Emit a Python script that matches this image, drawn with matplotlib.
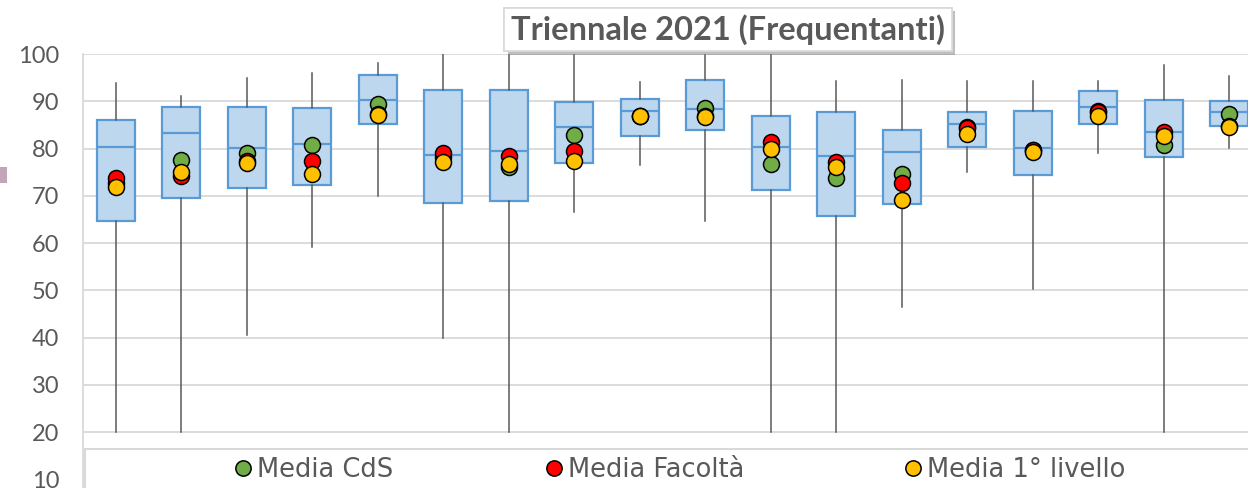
import numpy as np
import matplotlib
matplotlib.use("Agg")
import matplotlib.pyplot as plt
from matplotlib.patches import Rectangle
from matplotlib.lines import Line2D
import matplotlib.patheffects as pe

plt.rcParams['font.family'] = ['Lato', 'DejaVu Sans']

# box statistics per course
whis_lo = [20, 20, 40.6, 59.2, 69.9, 40.0, 20, 66.5, 76.5, 64.7, 20, 20, 46.5, 75.1, 50.3, 79.0, 20, 80.2]
q1 = [64.7, 69.6, 71.6, 72.3, 85.3, 68.4, 69.0, 77.0, 82.7, 83.9, 71.2, 65.7, 68.3, 80.3, 74.4, 85.2, 78.3, 84.8]
med = [80.3, 83.4, 80.2, 81.0, 90.2, 78.6, 79.5, 84.6, 87.9, 88.4, 80.3, 78.4, 79.3, 85.3, 80.2, 88.9, 83.5, 87.7]
q3 = [86.0, 88.7, 88.9, 88.5, 95.5, 92.5, 92.5, 89.9, 90.5, 94.6, 86.9, 87.8, 83.9, 87.7, 87.9, 92.1, 90.3, 90.1]
whis_hi = [93.9, 91.1, 94.9, 95.9, 98.2, 100, 100, 100, 94.0, 100, 100, 94.4, 94.5, 94.4, 94.4, 94.4, 97.7, 95.3]

# means
media_cds = [72.8, 77.6, 79.0, 80.7, 89.4, 78.3, 76.1, 82.8, 87.0, 88.5, 76.7, 73.7, 74.7, 84.5, 79.6, 88.0, 80.7, 87.4]
media_fac = [73.8, 74.2, 77.3, 77.4, 87.4, 79.0, 78.5, 79.5, 87.0, 86.9, 81.4, 77.2, 72.8, 84.4, 79.6, 87.8, 83.6, 84.7]
media_liv = [71.8, 75.1, 77.0, 74.7, 87.2, 77.1, 76.7, 77.4, 86.9, 86.7, 79.9, 76.0, 69.2, 83.0, 79.3, 87.0, 82.6, 84.5]

labels = ['Media CdS', 'Media Facoltà', 'Media 1° livello']
colors = ['#70AD47', '#FF0000', '#FFC000']
yticks = [10, 20, 30, 40, 50, 60, 70, 80, 90, 100]

GRAY = '#595959'
GRID = '#D9D9D9'

fig = plt.figure(figsize=(12.48, 4.88), dpi=100)
# axes runs past the bottom/right of the picture (cropped chart)
ax = fig.add_axes([83 / 1248, -0.0789, 1179 / 1248, 0.968])

pos = np.arange(len(med))
stats = [dict(whislo=a, q1=b, med=c, q3=d, whishi=e)
         for a, b, c, d, e in zip(whis_lo, q1, med, q3, whis_hi)]
ax.bxp(stats, positions=pos, widths=0.58, showfliers=False, showcaps=False,
       patch_artist=True,
       boxprops=dict(facecolor='#BDD7EE', edgecolor='#5B9BD5', linewidth=1.6),
       medianprops=dict(color='#5B9BD5', linewidth=1.6),
       whiskerprops=dict(color=GRAY, linewidth=1.1),
       zorder=2)

handles = []
for vals, c, lab in zip([media_cds, media_fac, media_liv], colors, labels):
    h, = ax.plot(pos, vals, 'o', ms=11.5, mfc=c, mec='black', mew=1.1,
                 ls='none', label=lab, zorder=3)
    handles.append(h)

ax.set_xlim(-0.5, 17.5)
ax.set_ylim(0, 100)
ax.set_yticks(yticks)
ax.set_xticks([])
ax.tick_params(axis='y', length=0, pad=17, labelsize=17, labelcolor=GRAY)
ax.grid(axis='y', color=GRID, linewidth=1.3, zorder=0)
ax.set_axisbelow(True)
for s in ['top', 'right', 'bottom']:
    ax.spines[s].set_visible(False)
ax.spines['left'].set_color(GRID)
ax.spines['left'].set_linewidth(1.3)

# legend frame (also hides the lowest part of the plot)
fig.add_artist(Rectangle((85 / 1248, -0.05), 1.0, 0.05 + 1 - 449 / 488,
                         transform=fig.transFigure, facecolor='white',
                         edgecolor=GRID, linewidth=1.5, zorder=5))
for h, x0 in zip(handles, [234, 545, 904]):
    lg = fig.legend(handles=[Line2D([], [], marker='o', ls='none', ms=11,
                                    mfc=h.get_markerfacecolor(), mec='black', mew=1.1)],
                    labels=[h.get_label()], loc='center left',
                    bbox_to_anchor=(x0 / 1248, 1 - 470 / 488), frameon=False,
                    borderpad=0, borderaxespad=0, handlelength=0.7,
                    handletextpad=0.2,
                    prop=dict(family='DejaVu Sans', size=18.5), labelcolor=GRAY)
    lg.set_zorder(6)

# small leftover marker at the left edge
fig.add_artist(Rectangle((0, 1 - 183 / 488), 7 / 1248, 16 / 488,
                         transform=fig.transFigure, facecolor='#C4A4B8',
                         edgecolor='none', zorder=5))

t = fig.text(728 / 1248, 1 - 29.5 / 488, 'Triennale 2021 (Frequentanti)',
             ha='center', va='center', fontsize=23.5, fontweight='bold',
             color=GRAY, zorder=7,
             bbox=dict(boxstyle='square,pad=0.2', facecolor='white',
                       edgecolor=GRID, linewidth=1.2))
t.get_bbox_patch().set_path_effects([
    pe.withSimplePatchShadow(offset=(2.5, -2.5), shadow_rgbFace='#808080', alpha=0.5),
    pe.Normal()])

fig.savefig('out.png', dpi=100)
